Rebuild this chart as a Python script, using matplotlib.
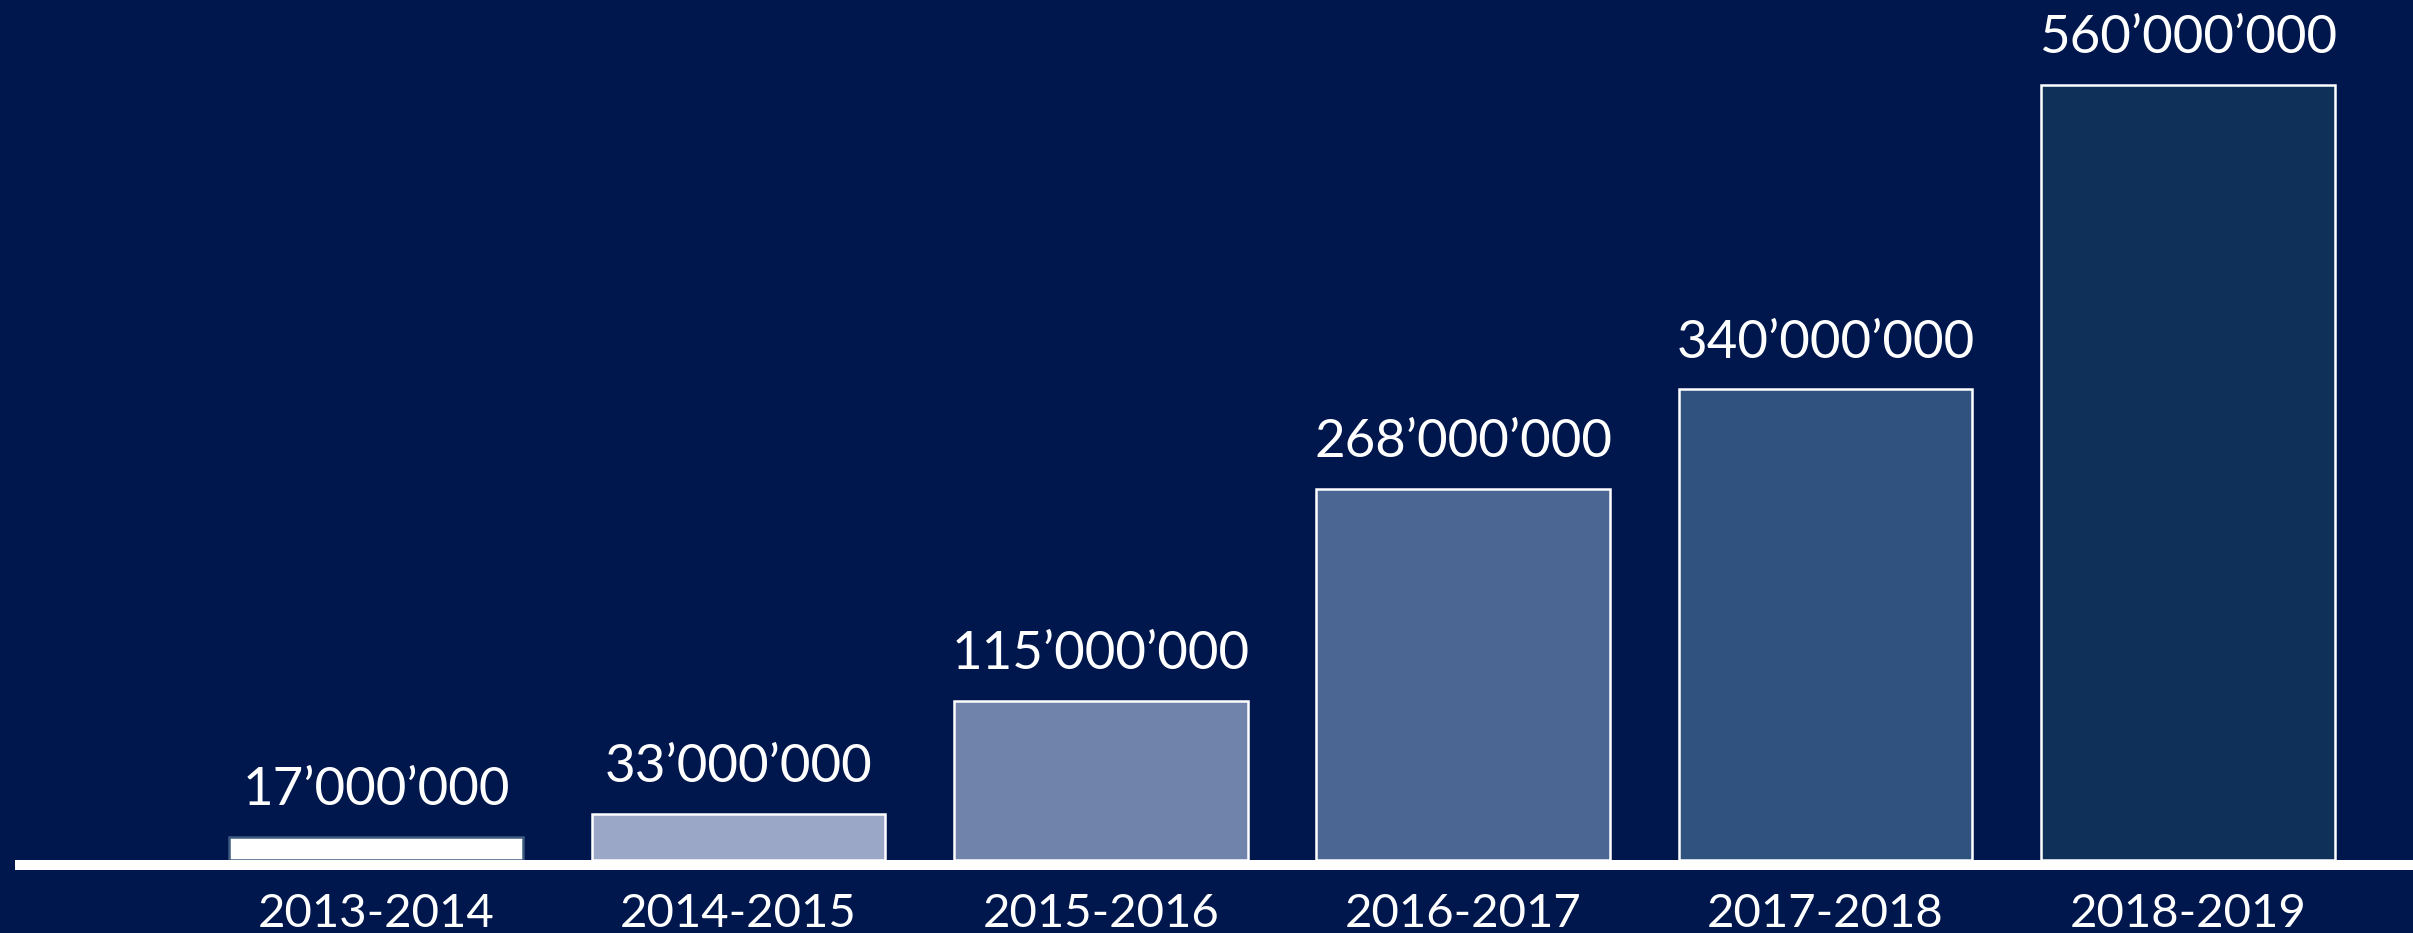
import matplotlib
matplotlib.use("Agg")
import matplotlib.pyplot as plt

# data
seasons = ["2013-2014", "2014-2015", "2015-2016", "2016-2017", "2017-2018", "2018-2019"]
values = [17000000, 33000000, 115000000, 268000000, 340000000, 560000000]
value_labels = ["17’000’000", "33’000’000", "115’000’000", "268’000’000", "340’000’000", "560’000’000"]

bg = "#00174E"
bar_colors = ["#FFFFFF", "#9AA7C7", "#6F83AB", "#4B6692", "#30527E", "#0F3159"]
edge_colors = ["#3D5A80", "white", "white", "white", "white", "white"]

plt.rcParams['font.family'] = ['Lato', 'DejaVu Sans']

fig = plt.figure(figsize=(24.13, 9.33), dpi=100, facecolor=bg)
ax = fig.add_axes([15 / 2413, 63 / 933, 1 - 15 / 2413, 870 / 933])
ax.set_facecolor(bg)

x = list(range(len(seasons)))
bars = ax.bar(x, values, width=0.81, color=bar_colors, edgecolor=edge_colors, linewidth=1.8, zorder=2)

ax.set_xlim(-0.996, 5.621)
ax.set_ylim(-7.2e6, 621.4e6)

# thick white baseline under the bars
ax.axhspan(-7.2e6, 0, color="white", zorder=3, lw=0)

for b, lab in zip(bars, value_labels):
    ax.annotate(lab, (b.get_x() + b.get_width() / 2, b.get_height()),
                xytext=(0, 23), textcoords="offset points",
                ha="center", va="baseline", color="white", fontsize=38)

ax.set_xticks(x)
ax.set_xticklabels(seasons, fontsize=34, color="white")
ax.tick_params(axis="x", length=0, pad=41)
for t in ax.get_xticklabels():
    t.set_va("baseline")
ax.set_yticks([])
for s in ax.spines.values():
    s.set_visible(False)

fig.savefig("out.png", dpi=100, facecolor=bg)
